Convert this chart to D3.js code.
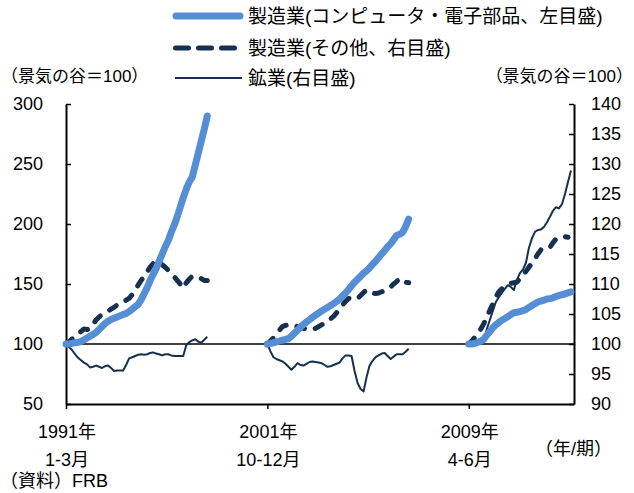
<!DOCTYPE html>
<html><head><meta charset="utf-8">
<script src="https://cdn.jsdelivr.net/npm/d3@7"></script>
<style>
html,body{margin:0;padding:0;background:#fff;}
svg text{font-family:"Liberation Sans","Noto Sans CJK JP",sans-serif;fill:#000;}
</style></head>
<body>
<svg id="c" width="634" height="493"></svg>
<script>
// ---- data (monthly index from each business-cycle trough = 100) ----
const tickYear = ["1991年", "2001年", "2009年"];
const tickPeriod = ["1-3月", "10-12月", "4-6月"];
const panelOffset = [0, 67, 134];
const leftTicks = [50, 100, 150, 200, 250, 300];
const rightTicks = [90, 95, 100, 105, 110, 115, 120, 125, 130, 135, 140];
const seriesNames = ["製造業(コンピュータ・電子部品、左目盛)", "製造業(その他、右目盛)", "鉱業(右目盛)"];

// Computers & electronics (left axis)
const elec1991 = [100,100,100.5,101,101.5,102,103.5,105,106.5,108,109.5,112,114.5,117,119,120.5,121.5,122.5,123.5,124.5,125.5,127,129,131,133,137,142,147,153,158,163,169,175,181,186,193,199,206,214,222,229,235,239,249,259,269,279,290];
const elec2001 = [100,100.5,101,101.8,102.5,103.2,103.8,104.5,106.5,109,111.5,114,116.3,118.3,120.2,122.2,124,125.8,127.5,129,130.5,132,133.5,135.5,137.5,140,142.5,145.5,148.5,151.5,154,156.5,159,161,163.5,166.5,169,172,175,178,181,183.5,187,190.5,191.5,193,198,204];
const elec2009 = [100,100,100.5,101.5,102.5,104,107.5,110.5,113.5,116,118,119.8,121.2,122.8,124.5,126,126.5,127,127.8,128.8,130.5,132,133.5,135,135.8,136.5,137.5,137.8,138.5,139.5,140.5,141,141.8,142.6,143.4];
// Other manufacturing (right axis)
const other1991 = [100,100.4,100.8,101.2,101.6,102.1,102.5,102.4,102.6,103.3,104,104.5,104.9,105.2,105.5,105.8,106.1,106.5,106.8,107.1,107.3,107.6,108.2,109,109.8,110.6,111.3,112,112.8,113.4,113.9,113.6,113.2,112.8,112.3,111.8,111.2,110.6,110,109.3,110.2,110.8,111.3,111.3,111.1,110.9,110.6,110.6];
const other2001 = [100,100.5,101,101.6,102.3,102.9,103.1,103.2,103.2,103.1,102.9,102.7,102.6,102.5,102.5,102.4,102.6,102.9,103.2,103.4,103.8,104.2,104.6,105.2,105.9,106.5,107.1,107.6,107.5,107.4,107.6,108.1,108.6,109,108.8,108.5,108.4,108.5,108.7,108.9,109.1,109.5,110,110.4,110.9,110.7,110.3,110.2];
const other2009 = [100,100.5,101.1,101.6,102.5,103.4,104.5,105.6,106.7,107.8,108.7,109.2,109.6,109.9,110.1,110.2,110.3,110.9,111.6,112.1,112.8,113.5,114.2,115,115.7,116,116.1,116.1,116.9,117.5,117.7,117.9,117.9,117.8];
// Mining (right axis)
const mining1991 = [100,99.5,99,98.3,97.7,97.3,96.9,96.6,96.1,96.2,96.4,96.2,96.0,96.3,96.4,96.0,95.5,95.6,95.6,95.6,96.5,97.6,97.8,98.0,98.2,98.3,98.2,98.3,98.5,98.6,98.4,98.3,98.1,98.3,98.3,98.1,98.0,98.0,98.0,98.0,99.8,100.3,100.6,100.8,100.4,100.2,100.7,101.2];
const mining2001 = [100,98.8,97.8,97.5,97.3,97.1,96.7,96.2,95.7,96.2,96.8,96.5,96.4,96.7,97.0,97.1,97.0,96.9,96.8,96.5,96.2,96.3,96.5,96.7,96.9,97.6,98.1,98.1,98.0,95.5,93.5,92.5,92.1,94.5,96.4,97.2,97.8,98.1,98.4,98.5,98.0,97.5,97.9,98.3,98.3,98.3,98.7,99.2];
const mining2009 = [100,100.3,100.7,100.6,100.5,100.4,102.5,104,105.5,107,107.8,108.5,109.2,109.8,109.5,109,110.7,111.8,112.4,113.5,116,117.6,118.7,119,119.1,119.5,120.3,121.2,122.2,122.8,122.6,123.3,125,127,128.9];

const elecSeries = [elec1991, elec2001, elec2009];
const otherSeries = [other1991, other2001, other2009];
const miningSeries = [mining1991, mining2001, mining2009];

// ---- drawing ----
const BLUE = "#558ed5", NAVY = "#16304f";
const svg = d3.select("#c");
const x = d3.scaleLinear().domain([0, 169]).range([66, 574]);
const yL = d3.scaleLinear().domain([50, 300]).range([404, 104]);
const yR = d3.scaleLinear().domain([90, 140]).range([404, 104]);

// axes
const gL = svg.append("g").attr("transform", "translate(66,0)")
  .call(d3.axisLeft(yL).tickValues(leftTicks).tickSizeInner(-5).tickSizeOuter(0).tickPadding(23));
const gR = svg.append("g").attr("transform", "translate(574,0)")
  .call(d3.axisRight(yR).tickValues(rightTicks).tickSizeInner(-5).tickSizeOuter(0).tickPadding(17));
const gB = svg.append("g").attr("transform", "translate(0,404)")
  .call(d3.axisBottom(x).tickValues(panelOffset).tickSizeInner(5).tickSizeOuter(0).tickFormat(""));
[gL, gR, gB].forEach(g => {
  g.selectAll("path.domain").attr("stroke", "#000").attr("stroke-width", 2);
  g.selectAll(".tick line").attr("stroke", "#000").attr("stroke-width", 1.5);
  g.selectAll(".tick text").attr("font-size", 18).attr("fill", "#000")
    .style("font-family", '"Liberation Sans","Noto Sans CJK JP",sans-serif');
});

// 100 baseline
svg.append("line").attr("x1", 66).attr("x2", 574)
  .attr("y1", yL(100)).attr("y2", yL(100))
  .attr("stroke", "#000").attr("stroke-width", 1.5);

// x labels
panelOffset.forEach((o, i) => {
  svg.append("text").attr("x", x(o) + 1).attr("y", 432).attr("text-anchor", "middle")
    .attr("dominant-baseline", "central").attr("font-size", 18).text(tickYear[i]);
  svg.append("text").attr("x", x(o) + 1).attr("y", 460).attr("text-anchor", "middle")
    .attr("dominant-baseline", "central").attr("font-size", 18).text(tickPeriod[i]);
});
svg.append("text").attr("x", 535).attr("y", 449).attr("dominant-baseline", "central")
  .attr("font-size", 18).text("（年/期）");
svg.append("text").attr("x", 0).attr("y", 481).attr("dominant-baseline", "central")
  .attr("font-size", 18).text("（資料）FRB");
svg.append("text").attr("x", 1).attr("y", 76).attr("dominant-baseline", "central")
  .attr("font-size", 17).text("（景気の谷＝100）");
svg.append("text").attr("x", 633).attr("y", 76).attr("text-anchor", "end")
  .attr("dominant-baseline", "central").attr("font-size", 17).text("（景気の谷＝100）");

// series
const lineL = d3.line().x(d => x(d.i)).y(d => yL(d.v));
const lineR = d3.line().x(d => x(d.i)).y(d => yR(d.v));
const toPts = (arr, p) => arr.map((v, k) => ({ i: panelOffset[p] + k, v }));

miningSeries.forEach((arr, p) => {
  svg.append("path").attr("d", lineR(toPts(arr, p))).attr("fill", "none")
    .attr("stroke", NAVY).attr("stroke-width", 2).attr("stroke-linejoin", "round");
});
otherSeries.forEach((arr, p) => {
  svg.append("path").attr("d", lineR(toPts(arr, p))).attr("fill", "none")
    .attr("stroke", NAVY).attr("stroke-width", 5).attr("stroke-linecap", "round")
    .attr("stroke-linejoin", "round").attr("stroke-dasharray", "8,11");
});
elecSeries.forEach((arr, p) => {
  svg.append("path").attr("d", lineL(toPts(arr, p))).attr("fill", "none")
    .attr("stroke", BLUE).attr("stroke-width", 7).attr("stroke-linecap", "round")
    .attr("stroke-linejoin", "round");
});

// legend
const leg = svg.append("g");
const legY = [16, 48, 78];
leg.append("line").attr("x1", 176).attr("x2", 240).attr("y1", legY[0]).attr("y2", legY[0])
  .attr("stroke", BLUE).attr("stroke-width", 7).attr("stroke-linecap", "round");
leg.append("line").attr("x1", 175.5).attr("x2", 236).attr("y1", legY[1]).attr("y2", legY[1])
  .attr("stroke", NAVY).attr("stroke-width", 5).attr("stroke-linecap", "round")
  .attr("stroke-dasharray", "13,10");
leg.append("line").attr("x1", 175).attr("x2", 242).attr("y1", legY[2]).attr("y2", legY[2])
  .attr("stroke", NAVY).attr("stroke-width", 2);
seriesNames.forEach((s, i) => {
  leg.append("text").attr("x", 248).attr("y", legY[i]).attr("dominant-baseline", "central")
    .attr("font-size", 19).text(s);
});
</script>
</body></html>
